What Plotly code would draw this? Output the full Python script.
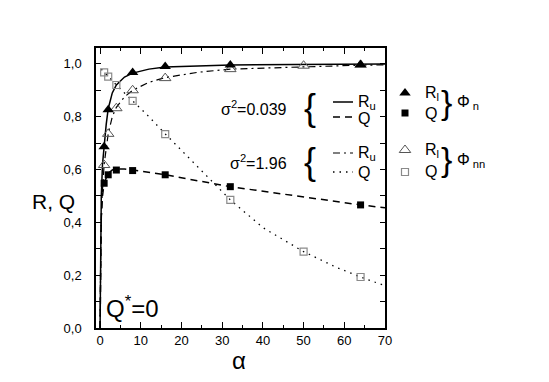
import plotly.graph_objects as go

# measured symbols
alpha_pts = [1, 2, 4, 8, 16, 32, 50, 64]
rl_n_alpha = [1, 2, 8, 16, 32, 64]
rl_n = [0.686, 0.826, 0.967, 0.990, 0.996, 0.998]
q_n_alpha = [1, 2, 4, 8, 16, 32, 64]
q_n = [0.548, 0.580, 0.598, 0.596, 0.580, 0.535, 0.466]
rl_nn = [0.617, 0.735, 0.832, 0.900, 0.946, 0.980, 0.993, 0.996]
q_nn = [0.968, 0.952, 0.920, 0.860, 0.734, 0.485, 0.289, 0.193]

# theory curves
ru_n_alpha = [0, 0.05, 0.15, 0.3, 0.6, 1, 1.5, 2, 3, 4, 6, 8, 12, 16, 24, 32, 48, 64, 70]
ru_n = [0, 0.2, 0.38, 0.5, 0.62, 0.69, 0.77, 0.83, 0.89, 0.92, 0.95, 0.965, 0.98,
        0.988, 0.993, 0.996, 0.998, 0.999, 0.999]
qc_n_alpha = [0, 0.1, 0.3, 0.6, 1, 2, 3, 4, 6, 8, 16, 32, 50, 64, 70]
qc_n = [0, 0.25, 0.42, 0.5, 0.55, 0.585, 0.598, 0.602, 0.602, 0.598, 0.58,
        0.535, 0.495, 0.466, 0.455]
ru_nn_alpha = [0, 0.2, 0.5, 1, 2, 3, 4, 6, 8, 12, 16, 24, 32, 50, 64, 70]
ru_nn = [0, 0.35, 0.5, 0.62, 0.735, 0.8, 0.835, 0.875, 0.9, 0.93, 0.948,
         0.968, 0.98, 0.99, 0.995, 0.996]
qc_nn_alpha = [0.3, 1, 2, 4, 6, 8, 12, 16, 24, 32, 40, 50, 58, 64, 70]
qc_nn = [0.98, 0.968, 0.952, 0.92, 0.89, 0.86, 0.80, 0.735, 0.61, 0.485,
         0.38, 0.289, 0.23, 0.193, 0.16]

# page has an 8px body margin, so the figure is 16px smaller than the window
OFF = 8
W, H = 549 - 2 * OFF, 382 - 2 * OFF
FONT = "Liberation Sans, Arial, sans-serif"
BLACK = "black"
GRAY_T = "#555555"
GRAY_S = "#8a8a8a"

DASH = "7px,5px"
DASHDOT = "7px,4px,2px,4px"
DOT = "1.5px,5px"

fig = go.Figure()

# curves
fig.add_trace(go.Scatter(x=ru_n_alpha, y=ru_n, mode="lines",
                         line=dict(color=BLACK, width=1.5)))
fig.add_trace(go.Scatter(x=qc_n_alpha, y=qc_n, mode="lines",
                         line=dict(color=BLACK, width=1.5, dash=DASH)))
fig.add_trace(go.Scatter(x=ru_nn_alpha, y=ru_nn, mode="lines",
                         line=dict(color=BLACK, width=1.2, dash=DASHDOT)))
fig.add_trace(go.Scatter(x=qc_nn_alpha, y=qc_nn, mode="lines",
                         line=dict(color=BLACK, width=1.3, dash=DOT)))

# symbols
fig.add_trace(go.Scatter(x=alpha_pts, y=q_nn, mode="markers",
                         marker=dict(symbol="square-open", size=7, color=GRAY_S,
                                     line=dict(width=1.2, color=GRAY_S))))
fig.add_trace(go.Scatter(x=alpha_pts, y=rl_nn, mode="markers",
                         marker=dict(symbol="triangle-up-open", size=10, color=GRAY_T,
                                     line=dict(width=1, color=GRAY_T))))
fig.add_trace(go.Scatter(x=q_n_alpha, y=q_n, mode="markers",
                         marker=dict(symbol="square", size=7, color=BLACK)))
fig.add_trace(go.Scatter(x=rl_n_alpha, y=rl_n, mode="markers",
                         marker=dict(symbol="triangle-up", size=10, color=BLACK)))

# legend glyphs in a full-page pixel subplot (window pixel coordinates)
def px(x, y, **kw):
    fig.add_trace(go.Scatter(x=x, y=y, xaxis="x2", yaxis="y2", cliponaxis=False,
                             hoverinfo="skip", **kw))

px([333, 353], [102, 102], mode="lines", line=dict(color=BLACK, width=1.5))
px([333, 353], [117, 117], mode="lines", line=dict(color=BLACK, width=1.5, dash=DASH))
px([333, 353], [153, 153], mode="lines", line=dict(color=BLACK, width=1.2, dash=DASHDOT))
px([333, 353], [172, 172], mode="lines", line=dict(color=BLACK, width=1.3, dash=DOT))
px([405], [93], mode="markers", marker=dict(symbol="triangle-up", size=10, color=BLACK))
px([405], [113], mode="markers", marker=dict(symbol="square", size=7, color=BLACK))
px([405], [150], mode="markers",
   marker=dict(symbol="triangle-up-open", size=10, color=GRAY_T, line=dict(width=1, color=GRAY_T)))
px([405], [172], mode="markers",
   marker=dict(symbol="square-open", size=7, color=GRAY_S, line=dict(width=1.2, color=GRAY_S)))

def txt(x, y, s, size=16, xanchor="left"):
    fig.add_annotation(x=x, y=y, xref="x2", yref="y2", text=s, showarrow=False,
                       xanchor=xanchor, yanchor="middle",
                       font=dict(family=FONT, size=size, color=BLACK))

txt(289, 108, "σ<sup>2</sup>=0.039", xanchor="right")
txt(310, 107, "{", size=36, xanchor="center")
txt(356, 102, "R<sub>u</sub>")
txt(356, 118, "Q")
txt(289, 162, "σ<sup>2</sup>=1.96", xanchor="right")
txt(310, 161, "{", size=36, xanchor="center")
txt(356, 153, "R<sub>u</sub>")
txt(356, 172, "Q")

txt(423, 93, "R<sub>l</sub>")
txt(423, 113, "Q")
txt(446, 102, "}", size=34, xanchor="center")
txt(455, 102, "Φ<sub> n</sub>")
txt(423, 150, "R<sub>l</sub>")
txt(423, 171, "Q")
txt(446, 159, "}", size=34, xanchor="center")
txt(455, 160, "Φ<sub> nn</sub>")

txt(104, 307, "Q<sup>*</sup>=0", size=24)
txt(53, 201, "R, Q", size=21, xanchor="center")
txt(239, 360, "α", size=24, xanchor="center")

x0, x1 = (96 - OFF) / W, (385 - OFF) / W
y0, y1 = (H - (328 - OFF)) / H, (H - (48 - OFF)) / H

axis_common = dict(showline=True, linecolor=BLACK, linewidth=1.5, mirror="ticks",
                   ticks="inside", tickcolor=BLACK, tickwidth=1.2, showgrid=False,
                   zeroline=False, tickfont=dict(family=FONT, size=13, color=BLACK))

fig.update_layout(
    width=W, height=H,
    margin=dict(l=0, r=0, t=0, b=0),
    plot_bgcolor="rgba(0,0,0,0)", paper_bgcolor="white",
    showlegend=False,
    separators=",.",
    xaxis=dict(domain=[x0, x1], range=[-1, 70], dtick=10, ticklen=6,
               minor=dict(dtick=5, ticklen=3, ticks="inside", tickcolor=BLACK),
               automargin=False, **axis_common),
    yaxis=dict(domain=[y0, y1], range=[0, 1.06], dtick=0.2, tickformat=".1f",
               ticklen=5, ticklabelstandoff=10,
               minor=dict(dtick=0.1, ticklen=5, ticks="inside", tickcolor=BLACK),
               automargin=False, **axis_common),
    xaxis2=dict(domain=[0, 1], range=[OFF, OFF + W], visible=False,
                anchor="y2", fixedrange=True),
    yaxis2=dict(domain=[0, 1], range=[OFF + H, OFF], visible=False,
                anchor="x2", fixedrange=True),
)

fig.write_html("out.html")
